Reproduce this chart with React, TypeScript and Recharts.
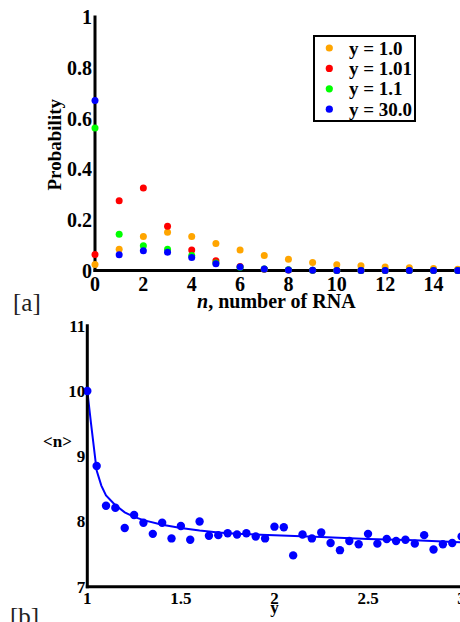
import React from 'react';
import { ScatterChart, ComposedChart, Scatter, Line, XAxis, YAxis, Legend, Label } from 'recharts';

// ---------- Panel [a]: probability distributions ----------
const nValues = [0, 1, 2, 3, 4, 5, 6, 7, 8, 9, 10, 11, 12, 13, 14, 15];
const probY1_0 = [0.024, 0.084, 0.134, 0.151, 0.134, 0.107, 0.081, 0.059, 0.044, 0.032, 0.023, 0.019, 0.014, 0.011, 0.008, 0.005];
const probY1_01 = [0.063, 0.275, 0.325, 0.175, 0.081, 0.038, 0.016, 0.005, 0.002, 0.001, 0, 0, 0, 0, 0, 0];
const probY1_1 = [0.562, 0.143, 0.098, 0.084, 0.059, 0.03, 0.013, 0.006, 0.003, 0.001, 0, 0, 0, 0, 0, 0];
const probY30_0 = [0.671, 0.062, 0.078, 0.072, 0.051, 0.027, 0.014, 0.006, 0.002, 0.001, 0, 0, 0, 0, 0, 0];
const seriesNames = ['y = 1.0', 'y = 1.01', 'y = 1.1', 'y = 30.0'];
const seriesColors = ['#FFA500', '#FF0000', '#00FF00', '#0000FF'];
const seriesValues = [probY1_0, probY1_01, probY1_1, probY30_0];
const probXTicks = [0, 2, 4, 6, 8, 10, 12, 14];
const probXMinorTicks = [1, 3, 5, 7, 9, 11, 13];
const probYTicks = [0, 0.2, 0.4, 0.6, 0.8, 1];
const probYMinorTicks = [0.1, 0.3, 0.5, 0.7, 0.9];

// ---------- Panel [b]: mean RNA number vs y ----------
const yValues = [1, 1.05, 1.1, 1.15, 1.2, 1.25, 1.3, 1.35, 1.4, 1.45, 1.5, 1.55, 1.6, 1.65, 1.7, 1.75, 1.8, 1.85, 1.9, 1.95, 2, 2.05, 2.1, 2.15, 2.2, 2.25, 2.3, 2.35, 2.4, 2.45, 2.5, 2.55, 2.6, 2.65, 2.7, 2.75, 2.8, 2.85, 2.9, 2.95, 3];
const meanN = [10.0, 8.85, 8.24, 8.21, 7.9, 8.1, 7.98, 7.81, 7.98, 7.74, 7.93, 7.72, 8.0, 7.78, 7.79, 7.82, 7.8, 7.82, 7.77, 7.74, 7.92, 7.91, 7.48, 7.8, 7.74, 7.83, 7.67, 7.56, 7.7, 7.65, 7.81, 7.66, 7.73, 7.7, 7.72, 7.66, 7.79, 7.57, 7.65, 7.67, 7.77];
const fitY = [1, 1.02, 1.05, 1.075, 1.1, 1.15, 1.2, 1.25, 1.3, 1.4, 1.5, 1.6, 1.7, 1.8, 2, 2.25, 2.5, 2.75, 3];
const fitN = [10.0, 9.5, 8.78, 8.55, 8.4, 8.25, 8.14, 8.07, 8.02, 7.95, 7.9, 7.86, 7.83, 7.81, 7.79, 7.76, 7.73, 7.71, 7.68];
const meanXTicks = [1, 1.5, 2, 2.5, 3];
const meanXMinorTicks = [1.1, 1.2, 1.3, 1.4, 1.6, 1.7, 1.8, 1.9, 2.1, 2.2, 2.3, 2.4, 2.6, 2.7, 2.8, 2.9];
const meanYTicks = [7, 8, 9, 10, 11];
const meanYMinorTicks = [7.5, 8.5, 9.5, 10.5];

const seriesData = seriesValues.map((vals) => nValues.map((n, i) => ({ n, p: vals[i] })));
const meanData = yValues.map((x, i) => ({ x, v: meanN[i] }));
const fitData = fitY.map((x, i) => ({ x, v: fitN[i] }));

const FONT = '"Liberation Serif", "Times New Roman", serif';
const axisLineStyle = { stroke: '#000', strokeWidth: 3, strokeLinecap: 'square' as const };
const tickLineStyle = { stroke: '#000', strokeWidth: 2 };
const noLabel = () => <g />;

function frameAxes(
  p: string,
  xDomain: [number, number],
  yDomain: [number, number],
  xMaj: number[],
  xMin: number[],
  yMaj: number[],
  yMin: number[],
  majLen: number,
  minLen: number
) {
  const c = { tick: noLabel, allowDataOverflow: true, interval: 0 as const, type: 'number' as const, mirror: true, tickLine: tickLineStyle };
  return [
    <XAxis key="xb1" xAxisId={p + 'xb1'} orientation="bottom" height={0} domain={xDomain} ticks={xMaj} tickSize={majLen} axisLine={false} {...c} />,
    <XAxis key="xb2" xAxisId={p + 'xb2'} orientation="bottom" height={0} domain={xDomain} ticks={xMin} tickSize={minLen} axisLine={false} {...c} />,
    <XAxis key="xt1" xAxisId={p + 'xt1'} orientation="top" height={0} domain={xDomain} ticks={xMaj} tickSize={majLen} axisLine={axisLineStyle} {...c} />,
    <XAxis key="xt2" xAxisId={p + 'xt2'} orientation="top" height={0} domain={xDomain} ticks={xMin} tickSize={minLen} axisLine={false} {...c} />,
    <YAxis key="yl1" yAxisId={p + 'yl1'} orientation="left" width={0} domain={yDomain} ticks={yMaj} tickSize={majLen} axisLine={false} {...c} />,
    <YAxis key="yl2" yAxisId={p + 'yl2'} orientation="left" width={0} domain={yDomain} ticks={yMin} tickSize={minLen} axisLine={false} {...c} />,
    <YAxis key="yr1" yAxisId={p + 'yr1'} orientation="right" width={0} domain={yDomain} ticks={yMaj} tickSize={majLen} axisLine={axisLineStyle} {...c} />,
    <YAxis key="yr2" yAxisId={p + 'yr2'} orientation="right" width={0} domain={yDomain} ticks={yMin} tickSize={minLen} axisLine={false} {...c} />,
  ];
}

const LegendBox = () => (
  <div style={{ width: 103, height: 87, border: '2px solid #000', boxSizing: 'border-box', background: '#fff' }}>
    <svg width={99} height={83} style={{ display: 'block' }}>
      {seriesNames.map((name, i) => (
        <g key={name}>
          <circle cx={14.3} cy={11 + i * 20.4} r={3.6} fill={seriesColors[i]} />
          <text x={34} y={11 + i * 20.4} dominantBaseline="central" fontFamily={FONT} fontWeight="bold" fontSize={19} fill="#000">
            {name}
          </text>
        </g>
      ))}
    </svg>
  </div>
);

const dotShape = (r: number, color: string) => (props: any) =>
  props.cx == null ? <g /> : <circle cx={props.cx} cy={props.cy} r={r} fill={color} />;

const vbOf = (props: any) => (props && props.viewBox) || { x: 0, y: 0, width: 0, height: 0 };

export default function App() {
  return (
    <div style={{ position: 'absolute', left: 0, top: 0, width: 460, height: 622, overflow: 'hidden', background: '#fff' }}>
      <div style={{ position: 'absolute', left: 0, top: 0 }}>
        <ScatterChart width={460} height={320} margin={{ top: 17, right: 2.3, bottom: 0, left: 0 }}>
          {seriesData.map((d, i) => (
            <Scatter
              key={seriesNames[i]}
              name={seriesNames[i]}
              data={d}
              xAxisId="x"
              yAxisId="y"
              fill={seriesColors[i]}
              shape={dotShape(3.5, seriesColors[i])}
              isAnimationActive={false}
            />
          ))}
          <XAxis
            xAxisId="x"
            dataKey="n"
            type="number"
            domain={[0, 15]}
            ticks={probXTicks}
            interval={0}
            height={49.5}
            tickLine={false}
            tickSize={0}
            tickMargin={6}
            axisLine={axisLineStyle}
            tick={{ fontFamily: FONT, fontWeight: 'bold', fontSize: 20, fill: '#000' }}
          >
            <Label
              content={(props: any) => {
                const vb = vbOf(props);
                return (
                  <text x={vb.x + vb.width / 2} y={vb.y + 37} textAnchor="middle" fontFamily={FONT} fontWeight="bold" fontSize={20} fill="#000">
                    <tspan fontStyle="italic">n</tspan>, number of RNA
                  </text>
                );
              }}
            />
          </XAxis>
          <YAxis
            yAxisId="y"
            dataKey="p"
            type="number"
            domain={[0, 1]}
            ticks={probYTicks}
            interval={0}
            width={95}
            tickLine={false}
            tickSize={0}
            tickMargin={3}
            axisLine={axisLineStyle}
            tick={{ fontFamily: FONT, fontWeight: 'bold', fontSize: 20, fill: '#000' }}
          >
            <Label
              content={(props: any) => {
                const vb = vbOf(props);
                const cx = vb.x + 54;
                const cy = vb.y + vb.height / 2 + 1;
                return (
                  <text x={cx} y={cy} transform={`rotate(-90, ${cx}, ${cy})`} textAnchor="middle" dominantBaseline="central" fontFamily={FONT} fontWeight="bold" fontSize={19} fill="#000">
                    Probability
                  </text>
                );
              }}
            />
          </YAxis>
          {frameAxes('a', [0, 15], [0, 1], probXTicks, probXMinorTicks, probYTicks, probYMinorTicks, 7, 4)}
          <Legend
            layout="horizontal"
            verticalAlign="middle"
            align="center"
            width={103}
            height={87}
            wrapperStyle={{ left: 313, top: 35, width: 103, height: 87 }}
            content={() => <LegendBox />}
          />
        </ScatterChart>
      </div>

      <div style={{ position: 'absolute', left: 0, top: 300 }}>
        <ComposedChart width={480} height={322} margin={{ top: 25.7, right: 18.4, bottom: 0, left: 0 }}>
          <Line
            data={fitData}
            dataKey="v"
            xAxisId="x"
            yAxisId="y"
            type="linear"
            stroke="#0000FF"
            strokeWidth={2}
            dot={false}
            activeDot={false}
            isAnimationActive={false}
          />
          <Scatter data={meanData} xAxisId="x" yAxisId="y" fill="#0000FF" shape={dotShape(4.2, '#0000FF')} isAnimationActive={false} />
          <XAxis
            xAxisId="x"
            dataKey="x"
            type="number"
            domain={[1, 3]}
            ticks={meanXTicks}
            interval={0}
            height={35.3}
            tickLine={false}
            tickSize={0}
            tickMargin={5}
            axisLine={axisLineStyle}
            tick={{ fontFamily: FONT, fontWeight: 'bold', fontSize: 17, fill: '#000' }}
          >
            <Label
              content={(props: any) => {
                const vb = vbOf(props);
                return (
                  <text x={vb.x + vb.width / 2} y={vb.y + 25.8} textAnchor="middle" fontFamily={FONT} fontWeight="bold" fontSize={17} fill="#000">
                    y
                  </text>
                );
              }}
            />
          </XAxis>
          <YAxis
            yAxisId="y"
            dataKey="v"
            type="number"
            domain={[7, 11]}
            ticks={meanYTicks}
            interval={0}
            width={87.3}
            tickLine={false}
            tickSize={0}
            tickMargin={2}
            axisLine={axisLineStyle}
            tick={{ fontFamily: FONT, fontWeight: 'bold', fontSize: 17, fill: '#000' }}
          >
            <Label
              content={(props: any) => {
                const vb = vbOf(props);
                return (
                  <text x={vb.x + 43} y={vb.y + vb.height * 0.444} dominantBaseline="central" fontFamily={FONT} fontWeight="bold" fontSize={17} fill="#000">
                    {'<n>'}
                  </text>
                );
              }}
            />
          </YAxis>
          {frameAxes('b', [1, 3], [7, 11], meanXTicks, meanXMinorTicks, meanYTicks, meanYMinorTicks, 7, 4)}
        </ComposedChart>
      </div>

      <svg width={460} height={622} style={{ position: 'absolute', left: 0, top: 0, pointerEvents: 'none' }}>
        <text x={13} y={310.5} fontFamily={FONT} fontSize={25} fill="#222">[a]</text>
        <text x={10} y={624.5} fontFamily={FONT} fontSize={25} fill="#222">[b]</text>
      </svg>
    </div>
  );
}
